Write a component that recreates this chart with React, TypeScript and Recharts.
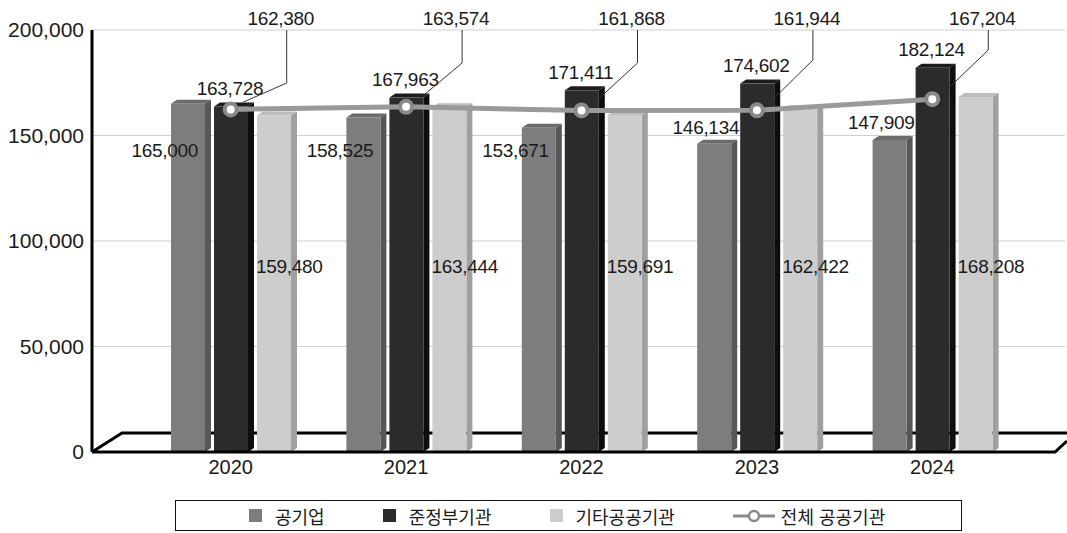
import React from "react";
import {
  ComposedChart,
  Bar,
  Line,
  XAxis,
  YAxis,
  CartesianGrid,
  LabelList,
} from "recharts";

const years = ["2020", "2021", "2022", "2023", "2024"];
const publicCorp = [165000, 158525, 153671, 146134, 147909];
const quasiGov = [163728, 167963, 171411, 174602, 182124];
const otherPublic = [159480, 163444, 159691, 162422, 168208];
const allPublic = [162380, 163574, 161868, 161944, 167204];
const yTicks = [0, 50000, 100000, 150000, 200000];

const seriesNames = ["공기업", "준정부기관", "기타공공기관", "전체 공공기관"];

// label placement tweaks (pixels), copied by eye from the original layout
const grayLabelDx = [-7, -7, -7, 8, 8];
const grayLabelY = [150, 150, 150, 127, 122];
const leaderElbowY = [83, 63, 63, 60, 50];

const data = years.map((year, i) => ({
  year,
  corp: publicCorp[i],
  quasi: quasiGov[i],
  other: otherPublic[i],
  all: allPublic[i],
}));

const FONT = "'Liberation Sans', Arial, 'Noto Sans CJK KR', sans-serif";
const fmt = (v: number) => Number(v).toLocaleString("en-US");

const makeBar3D = (front: string, side: string, top: string) => (props: any) => {
  const { x, y, width, height } = props;
  if (!height) return null;
  const d = 6;
  const e = 4;
  return (
    <g>
      <path
        d={`M${x},${y} L${x + d},${y - e} L${x + width + d},${y - e} L${x + width},${y} Z`}
        fill={top}
      />
      <path
        d={`M${x + width},${y} L${x + width + d},${y - e} L${x + width + d},${y + height - e} L${x + width},${y + height} Z`}
        fill={side}
      />
      <rect x={x} y={y} width={width} height={height} fill={front} />
    </g>
  );
};

const labelStyle = { fontSize: 19, fill: "#1a1a1a", fontFamily: FONT, letterSpacing: -0.3 };

const grayLabel = (p: any) => (
  <text
    x={p.x + p.width + grayLabelDx[p.index]}
    y={grayLabelY[p.index]}
    textAnchor="end"
    dominantBaseline="central"
    {...labelStyle}
  >
    {fmt(p.value)}
  </text>
);

const blackLabel = (p: any) => (
  <text
    x={p.x + p.width / 2 - 1}
    y={p.y - 18}
    textAnchor="middle"
    dominantBaseline="central"
    {...labelStyle}
  >
    {fmt(p.value)}
  </text>
);

const lightLabel = (p: any) => (
  <text
    x={p.x - 1}
    y={p.y + p.height - 186}
    textAnchor="start"
    dominantBaseline="central"
    {...labelStyle}
  >
    {fmt(p.value)}
  </text>
);

const lineLabel = (p: any) => {
  const vx = p.x + 56;
  const elbow = leaderElbowY[p.index];
  return (
    <g>
      <polyline
        points={`${vx},30 ${vx},${elbow} ${p.x + 12},${p.y - 7}`}
        fill="none"
        stroke="#333"
        strokeWidth={1}
      />
      <text
        x={vx - 6}
        y={18}
        textAnchor="middle"
        dominantBaseline="central"
        {...labelStyle}
      >
        {fmt(p.value)}
      </text>
    </g>
  );
};

function LegendBox() {
  const sq = (c: string) => (
    <span style={{ display: "inline-block", width: 13, height: 13, background: c, marginRight: 13 }} />
  );
  const item: React.CSSProperties = { display: "flex", alignItems: "center" };
  return (
    <div
      style={{
        position: "absolute",
        left: 175,
        top: 500,
        width: 787,
        height: 31,
        border: "1.5px solid #111",
        boxSizing: "border-box",
        display: "flex",
        alignItems: "center",
        paddingLeft: 73,
        gap: 58,
        fontFamily: FONT,
        fontSize: 18,
        color: "#1a1a1a",
      }}
    >
      <div style={item}>{sq("#7d7d7d")}{seriesNames[0]}</div>
      <div style={item}>{sq("#2b2b2b")}{seriesNames[1]}</div>
      <div style={item}>{sq("#cdcdcd")}{seriesNames[2]}</div>
      <div style={item}>
        <svg width={42} height={16} style={{ marginRight: 6 }}>
          <line x1={0} y1={8} x2={42} y2={8} stroke="#8a8a8a" strokeWidth={3} />
          <circle cx={21} cy={8} r={5} fill="#fff" stroke="#8a8a8a" strokeWidth={2.5} />
        </svg>
        {seriesNames[3]}
      </div>
    </div>
  );
}

export default function App() {
  return (
    <div style={{ position: "absolute", left: 0, top: 0, width: 1067, height: 533, background: "#fff" }}>
      <svg width={1067} height={533} style={{ position: "absolute", left: 0, top: 0 }}>
        <polyline
          points="92,452 122,433 1067,433"
          fill="none"
          stroke="#000"
          strokeWidth={3}
        />
      </svg>
      <div style={{ position: "absolute", left: 0, top: 0 }}>
        <ComposedChart
          width={1067}
          height={533}
          data={data}
          margin={{ top: 30, right: 2, bottom: 51, left: 0 }}
          barSize={34}
          barGap={9}
        >
          <CartesianGrid vertical={false} stroke="#cfcfcf" />
          <XAxis
            dataKey="year"
            axisLine={false}
            tickLine={false}
            padding={{ left: 51, right: 45 }}
            tick={{ fontSize: 20, fill: "#1a1a1a", fontFamily: FONT }}
            height={30}
          />
          <YAxis
            domain={[0, 200000]}
            ticks={yTicks}
            width={92}
            axisLine={{ stroke: "#000", strokeWidth: 3 }}
            tickLine={false}
            tickFormatter={fmt}
            tick={{ fontSize: 21, fill: "#1a1a1a", fontFamily: FONT }}
          />
          <Bar dataKey="corp" isAnimationActive={false} shape={makeBar3D("#7d7d7d", "#575757", "#6b6b6b")}>
            <LabelList dataKey="corp" content={grayLabel} />
          </Bar>
          <Bar dataKey="quasi" isAnimationActive={false} shape={makeBar3D("#2b2b2b", "#0d0d0d", "#1c1c1c")}>
            <LabelList dataKey="quasi" content={blackLabel} />
          </Bar>
          <Bar dataKey="other" isAnimationActive={false} shape={makeBar3D("#cdcdcd", "#a0a0a0", "#bdbdbd")}>
            <LabelList dataKey="other" content={lightLabel} />
          </Bar>
          <Line
            dataKey="all"
            isAnimationActive={false}
            stroke="#9a9a9a"
            strokeWidth={5}
            dot={{ r: 6, fill: "#fff", stroke: "#8a8a8a", strokeWidth: 4 }}
            activeDot={false}
          >
            <LabelList dataKey="all" content={lineLabel} />
          </Line>
        </ComposedChart>
      </div>
      <svg
        width={1067}
        height={533}
        style={{ position: "absolute", left: 0, top: 0, pointerEvents: "none" }}
      >
        <polyline
          points="92,452 1055,452 1067,441"
          fill="none"
          stroke="#000"
          strokeWidth={3}
        />
      </svg>
      <LegendBox />
    </div>
  );
}
